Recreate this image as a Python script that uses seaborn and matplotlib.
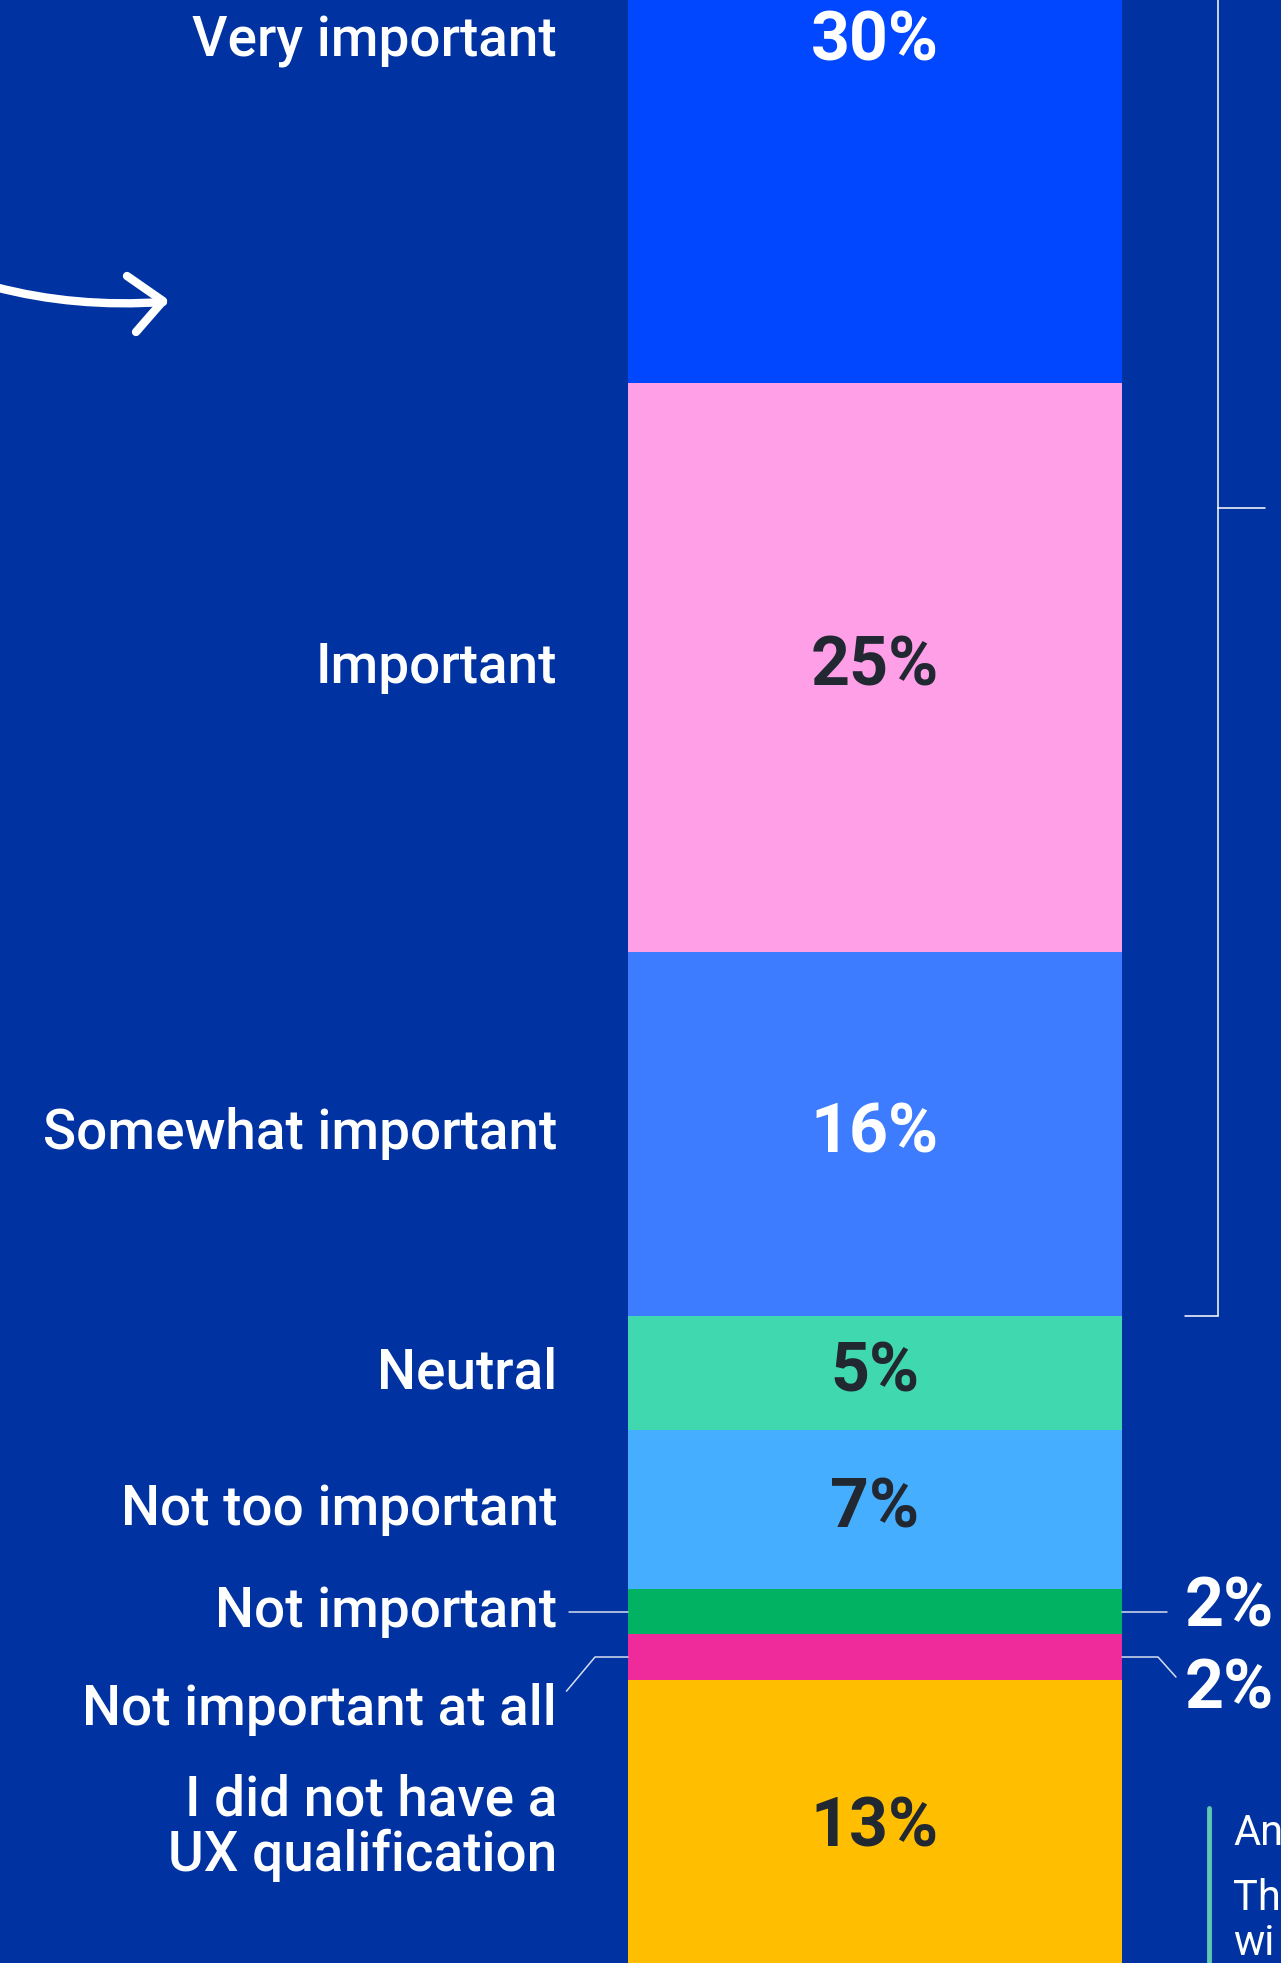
import numpy as np
import pandas as pd
import seaborn as sns
import matplotlib.pyplot as plt
from matplotlib.path import Path
from matplotlib.patches import PathPatch

# datos del gráfico
niveles = ["Very important", "Important", "Somewhat important", "Neutral",
           "Not too important", "Not important", "Not important at all",
           "I did not have a\nUX qualification"]
porcentajes = [30, 25, 16, 5, 7, 2, 2, 13]
colores = ["#0047FF", "#FF9FE8", "#3D7BFF", "#40D9AF",
           "#45AEFF", "#00B262", "#EF2A9B", "#FFBE00"]
color_texto = ["white", "#222831", "white", "#222831",
               "#222831", "white", "white", "#222831"]

fondo = "#0033A1"

acum = np.cumsum(porcentajes)
medio = acum - np.array(porcentajes) / 2
df = pd.DataFrame({"grupo": ["todos"] * len(niveles), "nivel": niveles, "acumulado": acum})

sns.set_theme(style="white")
plt.rcParams["font.family"] = ["Roboto", "DejaVu Sans"]

fig = plt.figure(figsize=(12.81, 19.63), dpi=100, facecolor=fondo)
ax = fig.add_axes([0, 0, 1, 1])
ax.set_facecolor(fondo)

# barras apiladas: se dibuja primero la acumulada mayor
sns.barplot(data=df, x="grupo", y="acumulado", hue="nivel", hue_order=niveles[::-1],
            palette=dict(zip(niveles, colores)), dodge=False, width=0.8,
            saturation=1, errorbar=None, legend=False, linewidth=0, ax=ax)
ax.set_xlim(-1.417, 0.6575)
ax.set_ylim(99.45, 13.165)
ax.axis("off")

tr = ax.get_yaxis_transform()

# etiquetas de categorias
pos_etiqueta = list(medio)
pos_etiqueta[6] = medio[6] + 2.3
for nombre, y in zip(niveles, pos_etiqueta):
    ax.text(0.4348, y, nombre, transform=tr, ha="right", va="center",
            fontsize=39.5, fontweight="medium", color="white", linespacing=1.05)

# porcentajes dentro de la barra
for i, (v, y) in enumerate(zip(porcentajes, medio)):
    if v <= 2:
        continue
    ax.text(0, y, f"{v}%", ha="center", va="center", fontsize=49,
            fontweight="bold", color=color_texto[i])

# porcentajes pequeños a la derecha
ax.text(0.9250, medio[5] - 0.17, f"{porcentajes[5]}%", transform=tr, ha="left",
        va="center", fontsize=49, fontweight="bold", color="white")
ax.text(0.9250, medio[6] + 1.45, f"{porcentajes[6]}%", transform=tr, ha="left",
        va="center", fontsize=49, fontweight="bold", color="white")

lc = dict(color="#D8DEF0", lw=1.1, transform=tr, clip_on=False)
ax.plot([0.4442, 0.4902], [medio[5], medio[5]], **lc)
ax.plot([0.4422, 0.4645, 0.4902], [medio[6] + 1.5, medio[6], medio[6]], **lc)
ax.plot([0.8759, 0.911], [medio[5], medio[5]], **lc)
ax.plot([0.8759, 0.904, 0.918], [medio[6], medio[6], medio[6] + 0.88], **lc)

# corchete de las tres primeras categorias
top3 = acum[2]
bc = dict(color="white", lw=1.1, transform=tr)
ax.plot([0.9508, 0.9508], [0, top3], **bc)
ax.plot([0.925, 0.9508], [top3, top3], **bc)
ax.plot([0.9508, 0.9875], [top3 / 2, top3 / 2], **bc)

# capa en pixeles para flecha y texto cortado
ov = fig.add_axes([0, 0, 1, 1], facecolor="none")
ov.set_xlim(0, 1281)
ov.set_ylim(1963, 0)
ov.axis("off")

curva = Path([(-5, 287), (75, 308), (163, 302)], [Path.MOVETO, Path.CURVE3, Path.CURVE3])
ov.add_patch(PathPatch(curva, fill=False, ec="white", lw=6, capstyle="round"))
ov.plot([127, 163, 136], [276, 301, 332], color="white", lw=6,
        solid_capstyle="round", solid_joinstyle="round")

ov.plot([1209, 1209], [1808, 1963], color="#5CC9B0", lw=3.5)
ov.text(1233, 1845, "An", fontsize=30, color="white", va="baseline")
ov.text(1233, 1910, "Th", fontsize=30, color="white", va="baseline")
ov.text(1233, 1955, "wi", fontsize=30, color="white", va="baseline")

fig.savefig("out.png", dpi=100, facecolor=fondo)
